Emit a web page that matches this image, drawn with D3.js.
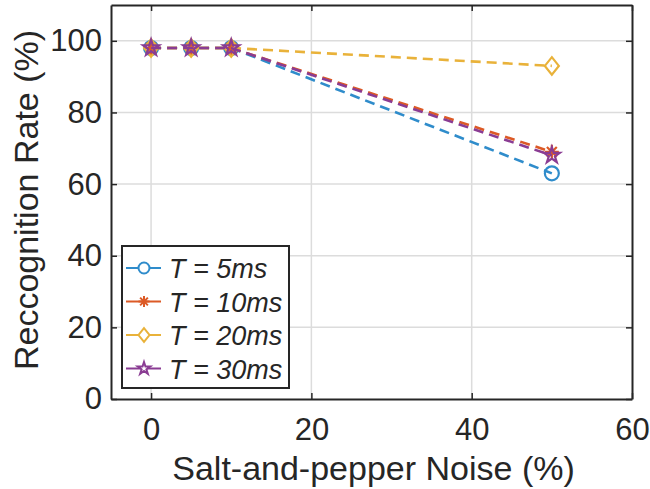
<!DOCTYPE html>
<html>
<head>
<meta charset="utf-8">
<script src="https://cdn.jsdelivr.net/npm/d3@7"></script>
<style>
  body { margin: 0; background: #fff; overflow: hidden; }
  svg { display: block; font-family: "Liberation Sans", Arial, Helvetica, sans-serif; }
</style>
</head>
<body>
<div id="chart"></div>
<script>
"use strict";

// noise levels (%)
const noiseLevels = [0, 5, 10, 50];

// recognition rate (%) per spike window T
const rate5ms  = [98, 98, 98, 63];
const rate10ms = [98, 98, 98, 69];
const rate20ms = [98, 98, 98, 93];
const rate30ms = [98, 98, 98, 68];

const seriesNames = ["5ms", "10ms", "20ms", "30ms"];
const seriesValues = [rate5ms, rate10ms, rate20ms, rate30ms];
const seriesColors = ["#2f8ccb", "#dc5a26", "#e9b23a", "#8a3c93"];
const seriesMarkers = ["circle", "asterisk", "diamond", "star"];

const xTicks = [0, 20, 40, 60];
const yTicks = [0, 20, 40, 60, 80, 100];

const margin = {top: 5, right: 18, bottom: 90, left: 111},
    width = 650 - margin.left - margin.right,
    height = 489 - margin.top - margin.bottom;

const svg = d3.select("#chart")
    .append("svg")
    .attr("width", 650)
    .attr("height", 489)
    .append("g")
    .attr("transform", "translate(" + margin.left + "," + margin.top + ")");

const x = d3.scaleLinear().domain([-5, 60]).range([0, width]);
const y = d3.scaleLinear().domain([0, 110]).range([height, 0]);

// grid
svg.append("g")
    .selectAll("line.gx")
    .data(xTicks.filter(d => d > -5 && d < 60))
    .join("line")
    .attr("x1", d => x(d)).attr("x2", d => x(d))
    .attr("y1", 0).attr("y2", height)
    .attr("stroke", "#dcdcdc").attr("stroke-width", 1.5);

svg.append("g")
    .selectAll("line.gy")
    .data(yTicks.filter(d => d > 0))
    .join("line")
    .attr("x1", 0).attr("x2", width)
    .attr("y1", d => y(d)).attr("y2", d => y(d))
    .attr("stroke", "#dcdcdc").attr("stroke-width", 1.5);

// axes with inward ticks
const axisColor = "#262626";

const xAxis = svg.append("g")
    .attr("transform", "translate(0," + height + ")")
    .call(d3.axisBottom(x).tickValues(xTicks).tickSizeInner(-6).tickSizeOuter(0).tickPadding(19));
const xTop = svg.append("g")
    .call(d3.axisTop(x).tickValues(xTicks).tickSizeInner(-6).tickSizeOuter(0).tickFormat(""));
const yAxis = svg.append("g")
    .call(d3.axisLeft(y).tickValues(yTicks).tickSizeInner(-6).tickSizeOuter(0).tickPadding(9));
const yRight = svg.append("g")
    .attr("transform", "translate(" + width + ",0)")
    .call(d3.axisRight(y).tickValues(yTicks).tickSizeInner(-6).tickSizeOuter(0).tickFormat(""));

[xAxis, xTop, yAxis, yRight].forEach(function(a) {
    a.select(".domain").attr("stroke", axisColor).attr("stroke-width", 2);
    a.selectAll(".tick line").attr("stroke", axisColor).attr("stroke-width", 1.5);
    a.selectAll(".tick text").attr("fill", "#262626").attr("font-size", 31);
});

// axis labels
svg.append("text")
    .attr("x", x(27.5) + 2)
    .attr("y", height + 81)
    .attr("text-anchor", "middle")
    .attr("font-size", 34)
    .attr("fill", "#262626")
    .text("Salt-and-pepper Noise (%)");

svg.append("text")
    .attr("transform", "rotate(-90)")
    .attr("x", -(height / 2) + 2)
    .attr("y", -margin.left + 38)
    .attr("text-anchor", "middle")
    .attr("font-size", 34)
    .attr("fill", "#262626")
    .text("Reccognition Rate (%)");

// marker paths
function markerPath(type, r) {
    if (type === "circle") {
        return d3.symbol().type(d3.symbolCircle).size(Math.PI * r * r)();
    }
    if (type === "diamond") {
        return "M0," + (-r * 1.25) + "L" + r + ",0L0," + (r * 1.25) + "L" + (-r) + ",0Z";
    }
    if (type === "star") {
        return d3.symbol().type(d3.symbolStar).size(r * r * 1.6)();
    }
    // asterisk: 4 strokes
    let p = "";
    for (let i = 0; i < 4; i++) {
        const a = i * Math.PI / 4;
        const dx = Math.cos(a) * r, dy = Math.sin(a) * r;
        p += "M" + (-dx) + "," + (-dy) + "L" + dx + "," + dy;
    }
    return p;
}

const line = d3.line()
    .x(function(d) { return x(d[0]); })
    .y(function(d) { return y(d[1]); });

seriesValues.forEach(function(vals, i) {
    const pts = noiseLevels.map((n, j) => [n, vals[j]]);
    svg.append("path")
        .datum(pts)
        .attr("fill", "none")
        .attr("stroke", seriesColors[i])
        .attr("stroke-width", 2.6)
        .attr("stroke-dasharray", "10,6")
        .attr("d", line);

    svg.append("g")
        .selectAll("path")
        .data(pts)
        .join("path")
        .attr("transform", d => "translate(" + x(d[0]) + "," + y(d[1]) + ")")
        .attr("d", markerPath(seriesMarkers[i], 7))
        .attr("fill", "none")
        .attr("stroke", seriesColors[i])
        .attr("stroke-width", 2.2);
});

// legend
const legend = svg.append("g")
    .attr("class", "legend")
    .attr("transform", "translate(" + (122 - margin.left) + "," + (246 - margin.top) + ")");

legend.append("rect")
    .attr("width", 167)
    .attr("height", 142)
    .attr("fill", "#fff")
    .attr("stroke", axisColor)
    .attr("stroke-width", 2);

seriesNames.forEach(function(name, i) {
    const row = legend.append("g")
        .attr("transform", "translate(0," + (22 + i * 33.5) + ")");
    row.append("line")
        .attr("x1", 4).attr("x2", 39)
        .attr("stroke", seriesColors[i]).attr("stroke-width", 2);
    row.append("path")
        .attr("transform", "translate(22,0)")
        .attr("d", markerPath(seriesMarkers[i], 5.5))
        .attr("fill", "#fff")
        .attr("stroke", seriesColors[i])
        .attr("stroke-width", 2);
    row.append("text")
        .attr("x", 47)
        .attr("y", 10)
        .attr("font-size", 27)
        .attr("font-style", "italic")
        .attr("fill", "#262626")
        .text("T = " + name);
});
</script>
</body>
</html>
